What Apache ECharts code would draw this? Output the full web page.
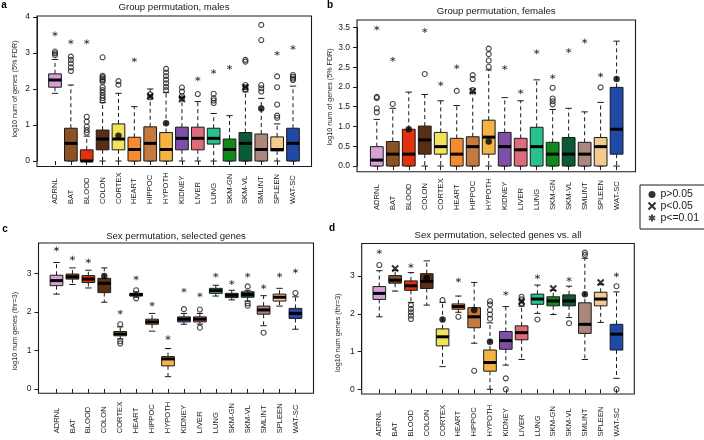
<!DOCTYPE html>
<html>
<head>
<meta charset="utf-8">
<script src="https://cdn.jsdelivr.net/npm/echarts@6/dist/echarts.min.js"></script>
<style>
html,body{margin:0;padding:0;background:#fff;}
#chart{width:704px;height:440px;}
</style>
</head>
<body>
<div id="chart"></div>
<script>
// ---------------- categories & colours ----------------
const tissues = ['ADRNL','BAT','BLOOD','COLON','CORTEX','HEART','HIPPOC','HYPOTH','KIDNEY','LIVER','LUNG','SKM-GN','SKM-VL','SMLINT','SPLEEN','WAT-SC'];
const tissueColors = ['#D8A0D8','#8B5224','#E0320F','#5A2E14','#F2E45A','#F58A2E','#C27A3E','#F4B342','#7D4FA6','#DD6B78','#27C08F','#0E8A1A','#0A5A36','#A9877A','#F6C98F','#2048A6'];

// ---------------- panel a: group permutation, males ----------------
// [low whisker, Q1, median, Q3, high whisker]
const maleBoxes = [
  [1.88,2.05,2.25,2.42,2.82],[0,0,0.49,0.91,2.11],[0,0,0,0.31,0.69],[0,0.31,0.61,0.86,1.62],
  [0,0.31,0.61,1.03,1.88],[0,0,0.32,0.66,1.51],[0,0,0.49,0.95,2.00],[0,0,0.32,0.79,1.90],
  [0,0.31,0.63,0.94,1.77],[0,0.31,0.63,0.94,1.65],[0,0.47,0.63,0.91,1.32],[0,0,0.32,0.61,1.26],
  [0,0,0.49,0.79,1.92],[0,0,0.32,0.75,1.74],[0,0.28,0.32,0.67,1.03],[0,0,0.49,0.91,2.08]
];
const maleOutliers = [
  [3.04,2.99,2.94],[2.90,2.81,2.71,2.60,2.50],[1.23,1.09,0.95,0.86,0.79],
  [2.88,2.37,2.33,2.28,2.24,2.20,2.05,1.97,1.90,1.82,1.75,1.68],[2.22,2.12],[],[1.85,1.77],
  [2.56,2.46,2.36,2.26,2.16,2.06,1.97],[2.04,1.93,1.80,1.74],[1.86],[1.87,1.74,1.68,1.61],[],
  [2.81,2.76,2.11,2.05,1.99],[3.78,3.36,2.11,2.02,1.93],[2.35,2.05,1.57,1.26,1.20],[2.39,2.34,2.29,2.25]
];
const maleStars   = [3.53,3.31,3.31,null,null,2.81,null,null,null,2.28,2.48,2.60,null,null,2.99,3.15];
const maleDots    = [null,null,null,null,0.70,null,null,1.05,null,null,null,null,null,1.46,null,null];
const maleCrosses = [null,null,null,null,null,null,1.80,null,1.72,null,null,null,2.05,null,null,null];
const maleTicks   = [0,1,2,3,4];

// ---------------- panel b: group permutation, females ----------------
const femaleBoxes = [
  [0,0,0.15,0.49,1.18],[0,0,0.30,0.62,1.46],[0,0,0.30,0.93,1.87],[0,0.30,0.66,1.01,1.81],
  [0,0.30,0.49,0.85,1.65],[0,0,0.30,0.70,1.53],[0,0,0.49,0.74,1.86],[0,0.30,0.73,1.16,2.43],
  [0,0,0.49,0.85,1.73],[0,0,0.41,0.70,1.65],[0,0,0.49,0.98,2.18],[0,0,0.30,0.60,1.43],
  [0,0,0.30,0.72,1.46],[0,0,0.30,0.60,1.37],[0,0,0.49,0.72,1.61],[0,0.30,0.93,1.99,3.16]
];
const femaleOutliers = [
  [1.75,1.72,1.46,1.36],[1.57],[],[2.33],[],[1.90],[2.30,2.20,1.92],[2.97,2.83,2.67,2.51],
  [],[],[],[1.98,1.71,1.64,1.56],[],[],[1.99],[]
];
const femaleStars   = [3.49,2.70,null,3.43,2.08,2.51,null,null,2.49,1.88,2.89,2.26,2.92,3.16,2.30,null];
const femaleDots    = [null,null,0.93,null,null,null,null,0.62,null,null,null,null,null,null,null,2.20];
const femaleCrosses = [null,null,null,null,null,null,1.89,null,null,null,null,null,null,null,null,null];
const femaleTicks   = [0,0.5,1,1.5,2,2.5,3,3.5];

// ---------------- panel c: sex permutation, selected genes ----------------
const sexSelBoxes = [
  [2.46,2.68,2.81,2.95,3.28],[2.71,2.85,2.91,2.98,3.14],[2.62,2.76,2.85,2.94,3.08],[2.25,2.50,2.74,2.87,3.14],
  [1.30,1.38,1.43,1.49,1.61],[2.38,2.41,2.45,2.48,2.52],[1.50,1.68,1.74,1.81,1.96],[0.32,0.60,0.78,0.84,1.05],
  [1.68,1.74,1.81,1.87,1.96],[1.68,1.74,1.81,1.87,1.96],[2.41,2.48,2.55,2.61,2.69],[2.31,2.37,2.43,2.48,2.56],
  [2.28,2.38,2.45,2.52,2.56],[1.64,1.94,2.05,2.15,2.42],[2.15,2.28,2.38,2.46,2.61],[1.55,1.83,1.96,2.09,2.39]
];
const sexSelOutliers = [
  [],[],[],[],[1.68,1.24,1.18],[2.56,2.35],[],[],[2.07],[2.06,1.59],[],[],[2.66,2.22,2.16],[1.46],[],[2.49]
];
const sexSelStars   = [3.63,3.39,3.32,null,1.99,2.88,2.20,1.33,2.56,2.44,2.95,2.76,2.95,2.65,2.95,3.06];
const sexSelDots    = [null,null,null,2.93,null,null,null,null,null,null,null,null,null,null,null,null];
const sexSelCrosses = [null,null,null,null,null,null,null,null,null,null,null,null,null,null,null,null];
const sexSelTicks   = [0,1,2,3];

// ---------------- panel d: sex permutation, selected genes vs. all ----------------
const sexAllBoxes = [
  [1.92,2.38,2.54,2.72,3.14],[2.60,2.81,2.89,3.01,3.15],[2.30,2.62,2.74,2.87,3.09],[2.23,2.67,2.86,3.06,3.40],
  [0.60,1.15,1.39,1.60,2.30],[2.04,2.12,2.19,2.26,2.47],[1.22,1.63,1.92,2.16,2.83],[0,0.48,0.71,1.04,1.76],
  [0.64,1.06,1.29,1.53,2.19],[0.79,1.31,1.50,1.68,2.20],[2.01,2.25,2.39,2.52,2.76],[1.98,2.21,2.34,2.45,2.62],
  [1.90,2.21,2.34,2.50,2.73],[0.79,1.48,1.72,2.29,3.47],[1.77,2.21,2.39,2.57,2.78],[0.29,1.04,1.46,1.72,2.58]
];
const sexAllOutliers = [
  [3.29],[],[2.23,2.13,2.04,1.95,1.86],[],[2.36],[1.92],[0.49],[2.33,2.25,2.10,1.98,1.87],
  [0.29,0.0],[2.45,2.38,2.27],[1.85],[],[1.75],[3.62,3.56],[],[2.73,0.0]
];
const sexAllStars   = [3.64,null,3.27,null,null,2.89,null,null,2.54,null,2.98,null,2.91,null,null,3.03];
const sexAllDots    = [null,null,null,2.95,1.85,null,2.10,1.26,null,null,null,null,null,2.52,null,null];
const sexAllCrosses = [null,3.20,null,null,null,null,null,null,null,2.32,null,2.67,null,null,2.83,null];
const sexAllTicks   = [0,1,2,3];

// ---------------- panel texts ----------------
const panelTitles  = ['Group permutation, males','Group permutation, females','Sex permutation, selected genes','Sex permutation, selected genes vs. all'];
const panelLetters = ['a','b','c','d'];
const yTitles      = ['log10 num of genes (5% FDR)','log10 num of genes (5% FDR)','log10 num genes (thr=3)','log10 num genes (thr=3)'];
const legendLabels = ['p>0.05','p<0.05','p<=0.01'];

// ---------------- layout (pixels) ----------------
const layouts = [
  {grid:[47.07,17,253.87,144],  frame:[37,16,274.5,150.5],   xOff:5.5, yOff:10.07, lblMargin:37.5, nameGap:18.5, dec:0, title:[174,7],   letter:[4,5]},
  {grid:[368.8,27.7,255.8,138.3], frame:[357,20,278.5,151.7], xOff:5.7, yOff:11.8, lblMargin:38.3, nameGap:23.5, dec:1, title:[496.2,11], letter:[330,5.5]},
  {grid:[48.53,273.3,254.9,115.7], frame:[38.5,243,275,150.3], xOff:4.3, yOff:10.03, lblMargin:40, nameGap:20, dec:0, title:[176,236.7], letter:[5,229]},
  {grid:[371.4,276,253,113.3], frame:[361.7,243.5,272.6,150.5], xOff:4.7, yOff:9.7, lblMargin:42.5, nameGap:20, dec:0, title:[498,235], letter:[332,228.5]}
];

const panels = [
  {boxes:maleBoxes, outliers:maleOutliers, stars:maleStars, dots:maleDots, crosses:maleCrosses, ticks:maleTicks},
  {boxes:femaleBoxes, outliers:femaleOutliers, stars:femaleStars, dots:femaleDots, crosses:femaleCrosses, ticks:femaleTicks},
  {boxes:sexSelBoxes, outliers:sexSelOutliers, stars:sexSelStars, dots:sexSelDots, crosses:sexSelCrosses, ticks:sexSelTicks},
  {boxes:sexAllBoxes, outliers:sexAllOutliers, stars:sexAllStars, dots:sexAllDots, crosses:sexAllCrosses, ticks:sexAllTicks}
];

const ink = '#1a1a1a';
const FONT = "'Liberation Sans', Arial, Helvetica, sans-serif";
const STAR_PATH = 'path://M5,0L5,10M0.67,2.5L9.33,7.5M0.67,7.5L9.33,2.5';
const CROSS_PATH = 'path://M0,0L10,10M0,10L10,0';

function pointsFrom(list) {
  const out = [];
  list.forEach((v, i) => { if (v !== null) out.push([i, v]); });
  return out;
}
function outlierPoints(lists) {
  const out = [];
  lists.forEach((l, i) => l.forEach(v => out.push([i, v])));
  return out;
}

function boxRenderer(params, api) {
  const idx = api.value(0);
  const ys = [1,2,3,4,5].map(d => api.coord([idx, api.value(d)])[1]);
  const x = api.coord([idx, api.value(3)])[0];
  const band = api.size([1, 0])[0];
  const bw = band * 0.8, cw = bw * 0.5;
  const yLo = ys[0], yQ1 = ys[1], yMed = ys[2], yQ3 = ys[3], yHi = ys[4];
  const dash = {stroke: ink, lineWidth: 1, lineDash: [4, 3]};
  const solid = {stroke: ink, lineWidth: 1};
  return {
    type: 'group',
    children: [
      {type:'line', shape:{x1:x, y1:yQ3, x2:x, y2:yHi}, style:dash},
      {type:'line', shape:{x1:x, y1:yQ1, x2:x, y2:yLo}, style:dash},
      {type:'line', shape:{x1:x-cw/2, y1:yHi, x2:x+cw/2, y2:yHi}, style:solid},
      {type:'line', shape:{x1:x-cw/2, y1:yLo, x2:x+cw/2, y2:yLo}, style:solid},
      {type:'rect', shape:{x:x-bw/2, y:yQ3, width:bw, height:Math.max(yQ1-yQ3, 0)},
        style:{fill:tissueColors[idx], stroke:ink, lineWidth:1}},
      {type:'line', shape:{x1:x-bw/2, y1:yMed, x2:x+bw/2, y2:yMed}, style:{stroke:'#000', lineWidth:3}}
    ]
  };
}

const grids = [], xAxes = [], yAxes = [], series = [], graphics = [];

panels.forEach((p, k) => {
  const L = layouts[k];
  grids.push({left:L.grid[0], top:L.grid[1], width:L.grid[2], height:L.grid[3], containLabel:false});
  xAxes.push({
    type:'category', gridIndex:k, data:tissues, offset:L.xOff,
    axisLine:{show:false},
    axisTick:{show:true, alignWithLabel:true, length:4, lineStyle:{color:ink}},
    axisLabel:{rotate:90, align:'left', margin:L.lblMargin, fontSize:7.6, color:ink, interval:0, fontFamily:FONT},
    splitLine:{show:false}
  });
  const t = p.ticks;
  yAxes.push({
    type:'value', gridIndex:k, min:t[0], max:t[t.length-1], interval:t[1]-t[0], offset:L.yOff,
    axisLine:{show:true, lineStyle:{color:ink}},
    axisTick:{show:true, length:4, lineStyle:{color:ink}},
    axisLabel:{fontSize:8.5, color:ink, margin:7, fontFamily:FONT, formatter: v => v.toFixed(L.dec)},
    splitLine:{show:false},
    name:yTitles[k], nameLocation:'middle', nameGap:L.nameGap,
    nameTextStyle:{fontSize:7.2, color:ink, fontFamily:FONT}
  });
  series.push({
    type:'custom', name:'box'+k, xAxisIndex:k, yAxisIndex:k, clip:false, silent:true,
    renderItem: boxRenderer,
    encode:{x:0, y:[1,2,3,4,5]},
    data: p.boxes.map((b, i) => [i].concat(b)),
    z:2
  });
  series.push({
    type:'scatter', name:'outliers'+k, xAxisIndex:k, yAxisIndex:k, clip:false, silent:true,
    symbol:'circle', symbolSize:5,
    itemStyle:{color:'rgba(0,0,0,0)', borderColor:ink, borderWidth:1.1},
    data: outlierPoints(p.outliers), z:3
  });
  series.push({
    type:'scatter', name:legendLabels[0], xAxisIndex:k, yAxisIndex:k, clip:false, silent:true,
    symbol:'circle', symbolSize:6.5, itemStyle:{color:'#000'},
    data: pointsFrom(p.dots), z:4
  });
  series.push({
    type:'scatter', name:legendLabels[1], xAxisIndex:k, yAxisIndex:k, clip:false, silent:true,
    symbol:CROSS_PATH, symbolSize:6, itemStyle:{color:'none', borderColor:'#000', borderWidth:2},
    data: pointsFrom(p.crosses), z:4
  });
  series.push({
    type:'scatter', name:legendLabels[2], xAxisIndex:k, yAxisIndex:k, clip:false, silent:true,
    symbol:STAR_PATH, symbolSize:5, itemStyle:{color:'none', borderColor:ink, borderWidth:0.9},
    data: pointsFrom(p.stars), z:4
  });
  graphics.push({type:'rect', shape:{x:L.frame[0], y:L.frame[1], width:L.frame[2], height:L.frame[3]},
    style:{fill:'none', stroke:ink, lineWidth:1.1}, z:10, silent:true});
  graphics.push({type:'text', x:L.title[0], y:L.title[1],
    style:{text:panelTitles[k], fontSize:9.6, fontFamily:FONT, fill:ink, textAlign:'center', textVerticalAlign:'middle'}});
  graphics.push({type:'text', x:L.letter[0], y:L.letter[1],
    style:{text:panelLetters[k], fontSize:10, fontWeight:'bold', fontFamily:FONT, fill:'#000', textAlign:'center', textVerticalAlign:'middle'}});
});

const chart = echarts.init(document.getElementById('chart'), null, {renderer:'canvas'});
chart.setOption({
  animation:false,
  backgroundColor:'#fff',
  textStyle:{fontFamily:FONT},
  grid:grids, xAxis:xAxes, yAxis:yAxes, series:series,
  graphic:graphics,
  legend:{
    data:legendLabels, orient:'vertical', left:640, top:185,
    padding:[4,9,5,6], itemGap:0, itemWidth:7, itemHeight:7,
    textStyle:{fontSize:10.5, lineHeight:10.5, color:ink, fontFamily:FONT},
    borderColor:ink, borderWidth:1, borderRadius:0, selectedMode:false
  }
});
</script>
</body>
</html>
